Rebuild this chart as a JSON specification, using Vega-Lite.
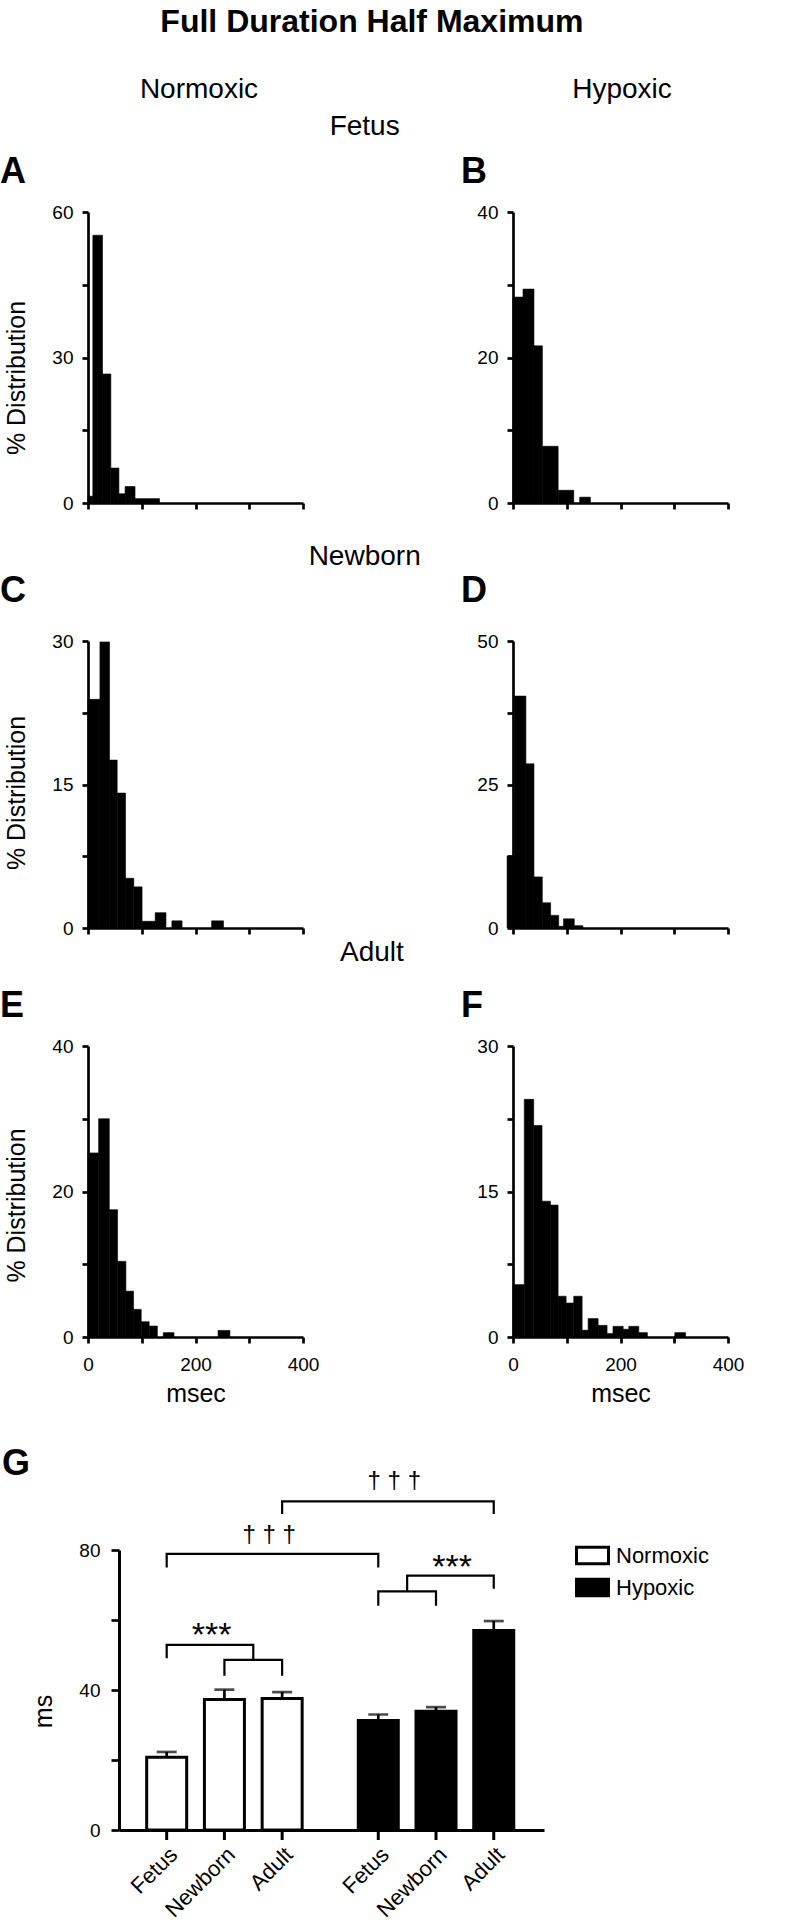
{
  "$schema": "https://vega.github.io/schema/vega-lite/v6.json",
  "background": "white",
  "padding": {"left": 0, "top": 5, "right": 0, "bottom": 0},
  "config": {
    "font": "Liberation Sans",
    "view": {"stroke": null},
    "axis": {"domainColor": "black", "domainWidth": 2.7, "tickColor": "black", "tickWidth": 2.7, "tickSize": 6, "labelColor": "black", "labelFontSize": 19, "labelPadding": 9, "labelFlush": false, "labelOverlap": false, "grid": false, "titleColor": "black", "titleFontSize": 25, "titleFontWeight": "normal", "titlePadding": 22},
    "title": {"color": "black"}
  },
  "title": {"text": "Full Duration Half Maximum", "fontSize": 32, "fontWeight": "bold", "anchor": "middle", "frame": "bounds", "offset": 37},
  "datasets": {
    "cols": [{"col": "Normoxic"}, {"col": "Hypoxic"}],
    "A": [{"x0":0,"x1":9,"pct":1.4},{"x0":9,"x1":27,"pct":55.2},{"x0":27,"x1":42.5,"pct":26.6},{"x0":42.5,"x1":57.5,"pct":7.2},{"x0":57.5,"x1":69,"pct":1.9},{"x0":69,"x1":87.5,"pct":3.4},{"x0":87.5,"x1":133,"pct":0.9}],
    "B": [{"x0":0,"x1":18.6,"pct":28.3},{"x0":18.6,"x1":39,"pct":29.4},{"x0":39,"x1":54.7,"pct":21.6},{"x0":54.7,"x1":84,"pct":7.8},{"x0":84,"x1":113,"pct":1.75},{"x0":124,"x1":144,"pct":0.8}],
    "C": [{"x0":0,"x1":22.2,"pct":23.9},{"x0":22.2,"x1":40,"pct":29.9},{"x0":40,"x1":54.3,"pct":17.55},{"x0":54.3,"x1":69.8,"pct":14.1},{"x0":69.8,"x1":85.2,"pct":5.2},{"x0":85.2,"x1":100.6,"pct":4.3},{"x0":100.6,"x1":125,"pct":0.7},{"x0":125,"x1":145,"pct":1.6},{"x0":156,"x1":175,"pct":0.75},{"x0":230,"x1":252,"pct":0.75}],
    "D": [{"x0":-11,"x1":3,"pct":12.5},{"x0":3,"x1":24,"pct":40.4},{"x0":24,"x1":39,"pct":28.6},{"x0":39,"x1":54.5,"pct":8.9},{"x0":54.5,"x1":70,"pct":4.4},{"x0":70,"x1":85,"pct":2.2},{"x0":85,"x1":94,"pct":0.3},{"x0":94,"x1":114,"pct":1.6},{"x0":114,"x1":130,"pct":0.4}],
    "E": [{"x0":0,"x1":19.8,"pct":25.3},{"x0":19.8,"x1":39.6,"pct":30.0},{"x0":39.6,"x1":55,"pct":17.5},{"x0":55,"x1":70.5,"pct":10.4},{"x0":70.5,"x1":84.7,"pct":6.3},{"x0":84.7,"x1":99,"pct":3.8},{"x0":99,"x1":113.8,"pct":2.1},{"x0":113.8,"x1":129,"pct":1.5},{"x0":140,"x1":160,"pct":0.6},{"x0":242,"x1":264,"pct":0.9}],
    "F": [{"x0":0,"x1":21,"pct":5.4},{"x0":21,"x1":38.5,"pct":24.5},{"x0":38.5,"x1":54,"pct":21.8},{"x0":54,"x1":69.6,"pct":14.0},{"x0":69.6,"x1":83.9,"pct":13.6},{"x0":83.9,"x1":98.8,"pct":4.2},{"x0":98.8,"x1":113,"pct":3.5},{"x0":113,"x1":128.6,"pct":4.2},{"x0":128.6,"x1":139.8,"pct":0.7},{"x0":139.8,"x1":158.4,"pct":1.9},{"x0":158.4,"x1":175,"pct":1.2},{"x0":175,"x1":186,"pct":0.35},{"x0":186,"x1":205,"pct":1.1},{"x0":205,"x1":215.5,"pct":0.8},{"x0":215.5,"x1":234,"pct":1.1},{"x0":234,"x1":250,"pct":0.45},{"x0":301,"x1":321,"pct":0.45}],
    "gbars": [
      {"cond": "Normoxic", "slot": "Fetus", "mean": 20.8, "upper": 22.3},
      {"cond": "Normoxic", "slot": "Newborn", "mean": 37.3, "upper": 40.1},
      {"cond": "Normoxic", "slot": "Adult", "mean": 37.6, "upper": 39.4},
      {"cond": "Hypoxic", "slot": "Fetus", "mean": 31.3, "upper": 33.0},
      {"cond": "Hypoxic", "slot": "Newborn", "mean": 33.9, "upper": 35.1},
      {"cond": "Hypoxic", "slot": "Adult", "mean": 57.0, "upper": 59.7}
    ],
    "brackets": [
      {"id": "t1", "ord": 1, "cond": "Normoxic", "slot": "Fetus", "y": 75},
      {"id": "t1", "ord": 2, "cond": "Normoxic", "slot": "Fetus", "y": 78.9},
      {"id": "t1", "ord": 3, "cond": "Hypoxic", "slot": "Fetus", "y": 78.9},
      {"id": "t1", "ord": 4, "cond": "Hypoxic", "slot": "Fetus", "y": 75},
      {"id": "t2", "ord": 1, "cond": "Normoxic", "slot": "Adult", "y": 90.3},
      {"id": "t2", "ord": 2, "cond": "Normoxic", "slot": "Adult", "y": 93.9},
      {"id": "t2", "ord": 3, "cond": "Hypoxic", "slot": "Adult", "y": 93.9},
      {"id": "t2", "ord": 4, "cond": "Hypoxic", "slot": "Adult", "y": 90.3},
      {"id": "sL1", "ord": 1, "cond": "Normoxic", "slot": "Fetus", "y": 49.1},
      {"id": "sL1", "ord": 2, "cond": "Normoxic", "slot": "Fetus", "y": 52.9},
      {"id": "sL1", "ord": 3, "cond": "Normoxic", "slot": "Newborn–Adult", "y": 52.9},
      {"id": "sL1", "ord": 4, "cond": "Normoxic", "slot": "Newborn–Adult", "y": 48.6},
      {"id": "sL2", "ord": 1, "cond": "Normoxic", "slot": "Newborn", "y": 44.1},
      {"id": "sL2", "ord": 2, "cond": "Normoxic", "slot": "Newborn", "y": 48.6},
      {"id": "sL2", "ord": 3, "cond": "Normoxic", "slot": "Adult", "y": 48.6},
      {"id": "sL2", "ord": 4, "cond": "Normoxic", "slot": "Adult", "y": 44.1},
      {"id": "sR1", "ord": 1, "cond": "Hypoxic", "slot": "Adult", "y": 68.9},
      {"id": "sR1", "ord": 2, "cond": "Hypoxic", "slot": "Adult", "y": 72.7},
      {"id": "sR1", "ord": 3, "cond": "Hypoxic", "slot": "Fetus–Newborn", "y": 72.7},
      {"id": "sR1", "ord": 4, "cond": "Hypoxic", "slot": "Fetus–Newborn", "y": 68.2},
      {"id": "sR2", "ord": 1, "cond": "Hypoxic", "slot": "Fetus", "y": 64.1},
      {"id": "sR2", "ord": 2, "cond": "Hypoxic", "slot": "Fetus", "y": 68.2},
      {"id": "sR2", "ord": 3, "cond": "Hypoxic", "slot": "Newborn", "y": 68.2},
      {"id": "sR2", "ord": 4, "cond": "Hypoxic", "slot": "Newborn", "y": 64.1}
    ],
    "stars": [
      {"cond": "Normoxic", "slot": "Fetus–Newborn", "y": 52.7, "label": "***"},
      {"cond": "Hypoxic", "slot": "Newborn", "y": 72.0, "label": "***"}
    ],
    "daggers": [
      {"cond": "Normoxic", "slot": "Newborn–Adult", "y": 82.2, "label": "† † †"},
      {"cond": "Hypoxic", "slot": "Fetus", "y": 97.6, "label": "† † †"}
    ]
  },
  "spacing": 40,
  "resolve": {"scale": {"fill": "independent"}, "legend": {"fill": "independent"}},
  "vconcat": [
    {"spacing": 0, "vconcat": [
      {"spacing": 29, "vconcat": [
        {"spacing": 9, "vconcat": [
          {"width": 645, "height": 1, "data": {"name": "cols"},
           "mark": {"type": "text", "fontSize": 28, "baseline": "alphabetic", "color": "black"},
           "encoding": {
             "x": {"field": "col", "type": "nominal", "scale": {"type": "point", "padding": 0.2624, "domain": ["Normoxic", "Hypoxic"]}, "axis": null},
             "text": {"field": "col"}
           }},
          {"title": {"text": "Fetus", "fontSize": 28, "fontWeight": "normal", "anchor": "middle", "frame": "bounds", "offset": 13},
           "bounds": "flush", "spacing": 210,
           "hconcat": [
            {"width": 215, "height": 291, "data": {"name": "A"},
             "title": {"text": "A", "anchor": "start", "frame": "group", "dx": -88, "offset": 12, "fontSize": 36, "fontWeight": "bold"},
             "mark": {"type": "rect", "color": "black", "stroke": "black", "strokeWidth": 0.6},
             "encoding": {
               "x": {"field": "x0", "type": "quantitative", "scale": {"domain": [0, 400], "nice": false}, "axis": {"values": [0, 100, 200, 300, 400], "labels": false, "title": null}},
               "x2": {"field": "x1"},
               "y": {"field": "pct", "type": "quantitative", "scale": {"domain": [0, 60], "nice": false}, "axis": {"values": [0, 15, 30, 45, 60], "labelExpr": "datum.value % 30 === 0 ? datum.label : ''", "title": "% Distribution", "titleY": 165.5}},
               "y2": {"datum": 0}
             }},
            {"width": 215, "height": 291, "data": {"name": "B"},
             "title": {"text": "B", "anchor": "start", "frame": "group", "dx": -52, "offset": 12, "fontSize": 36, "fontWeight": "bold"},
             "mark": {"type": "rect", "color": "black", "stroke": "black", "strokeWidth": 0.6},
             "encoding": {
               "x": {"field": "x0", "type": "quantitative", "scale": {"domain": [0, 400], "nice": false}, "axis": {"values": [0, 100, 200, 300, 400], "labels": false, "title": null}},
               "x2": {"field": "x1"},
               "y": {"field": "pct", "type": "quantitative", "scale": {"domain": [0, 40], "nice": false}, "axis": {"values": [0, 10, 20, 30, 40], "labelExpr": "datum.value % 20 === 0 ? datum.label : ''", "title": null}},
               "y2": {"datum": 0}
             }}
           ]}
        ]},
        {"title": {"text": "Newborn", "fontSize": 28, "fontWeight": "normal", "anchor": "middle", "frame": "bounds", "offset": 2.5},
         "bounds": "flush", "spacing": 210,
         "hconcat": [
          {"width": 215, "height": 287, "data": {"name": "C"},
           "title": {"text": "C", "anchor": "start", "frame": "group", "dx": -88, "offset": 22, "fontSize": 36, "fontWeight": "bold"},
           "mark": {"type": "rect", "color": "black", "stroke": "black", "strokeWidth": 0.6},
           "encoding": {
             "x": {"field": "x0", "type": "quantitative", "scale": {"domain": [0, 400], "nice": false}, "axis": {"values": [0, 100, 200, 300, 400], "labels": false, "title": null}},
             "x2": {"field": "x1"},
             "y": {"field": "pct", "type": "quantitative", "scale": {"domain": [0, 30], "nice": false}, "axis": {"values": [0, 7.5, 15, 22.5, 30], "labelExpr": "datum.value % 15 === 0 ? datum.label : ''", "title": "% Distribution", "titleY": 151.5}},
             "y2": {"datum": 0}
           }},
          {"width": 215, "height": 287, "data": {"name": "D"},
           "title": {"text": "D", "anchor": "start", "frame": "group", "dx": -52, "offset": 22, "fontSize": 36, "fontWeight": "bold"},
           "mark": {"type": "rect", "color": "black", "stroke": "black", "strokeWidth": 0.6},
           "encoding": {
             "x": {"field": "x0", "type": "quantitative", "scale": {"domain": [0, 400], "nice": false}, "axis": {"values": [0, 100, 200, 300, 400], "labels": false, "title": null}},
             "x2": {"field": "x1"},
             "y": {"field": "pct", "type": "quantitative", "scale": {"domain": [0, 50], "nice": false}, "axis": {"values": [0, 12.5, 25, 37.5, 50], "labelExpr": "datum.value % 25 === 0 ? datum.label : ''", "title": null}},
             "y2": {"datum": 0}
           }}
         ]}
      ]},
      {"title": {"text": "Adult", "fontSize": 28, "fontWeight": "normal", "anchor": "middle", "frame": "bounds", "offset": 21.5},
       "bounds": "flush", "spacing": 210,
       "hconcat": [
        {"width": 215, "height": 291, "data": {"name": "E"},
         "title": {"text": "E", "anchor": "start", "frame": "group", "dx": -88, "offset": 12, "fontSize": 36, "fontWeight": "bold"},
         "mark": {"type": "rect", "color": "black", "stroke": "black", "strokeWidth": 0.6},
         "encoding": {
           "x": {"field": "x0", "type": "quantitative", "scale": {"domain": [0, 400], "nice": false}, "axis": {"values": [0, 100, 200, 300, 400], "labelExpr": "datum.value % 200 === 0 ? datum.label : ''", "labelPadding": 12, "title": "msec", "titlePadding": 7}},
           "x2": {"field": "x1"},
           "y": {"field": "pct", "type": "quantitative", "scale": {"domain": [0, 40], "nice": false}, "axis": {"values": [0, 10, 20, 30, 40], "labelExpr": "datum.value % 20 === 0 ? datum.label : ''", "title": "% Distribution", "titleY": 159}},
           "y2": {"datum": 0}
         }},
        {"width": 215, "height": 291, "data": {"name": "F"},
         "title": {"text": "F", "anchor": "start", "frame": "group", "dx": -52, "offset": 12, "fontSize": 36, "fontWeight": "bold"},
         "mark": {"type": "rect", "color": "black", "stroke": "black", "strokeWidth": 0.6},
         "encoding": {
           "x": {"field": "x0", "type": "quantitative", "scale": {"domain": [0, 400], "nice": false}, "axis": {"values": [0, 100, 200, 300, 400], "labelExpr": "datum.value % 200 === 0 ? datum.label : ''", "labelPadding": 12, "title": "msec", "titlePadding": 7}},
           "x2": {"field": "x1"},
           "y": {"field": "pct", "type": "quantitative", "scale": {"domain": [0, 30], "nice": false}, "axis": {"values": [0, 7.5, 15, 22.5, 30], "labelExpr": "datum.value % 15 === 0 ? datum.label : ''", "title": null}},
           "y2": {"datum": 0}
         }}
       ]}
    ]},
    {"bounds": "flush", "spacing": 30,
     "resolve": {"scale": {"fill": "independent"}, "legend": {"fill": "independent"}},
     "hconcat": [
      {"width": 1, "height": 1, "data": {"values": [{"s": 0}]}, "mark": {"type": "point", "opacity": 0}},
      {"width": 425, "height": 280,
       "title": {"text": "G", "anchor": "start", "frame": "group", "dx": -117, "offset": -14, "fontSize": 36, "fontWeight": "bold"},
       "encoding": {
         "x": {"field": "cond", "type": "nominal", "scale": {"domain": ["Normoxic", "Hypoxic"], "paddingInner": 0.1815, "paddingOuter": 0.095, "align": 0.468}, "axis": {"ticks": false, "labels": false, "title": null, "domainWidth": 3}},
         "xOffset": {"field": "slot", "type": "nominal", "scale": {"type": "point", "padding": 1, "domain": ["Fetus", "Fetus–Newborn", "Newborn", "Newborn–Adult", "Adult"]}}
       },
       "layer": [
        {"data": {"name": "gbars"},
         "mark": {"type": "bar", "width": 40, "stroke": "black", "strokeWidth": 3},
         "encoding": {
           "y": {"field": "mean", "type": "quantitative", "scale": {"domain": [0, 80], "nice": false}, "axis": {"values": [0, 20, 40, 60, 80], "labelExpr": "datum.value % 40 === 0 ? datum.label : ''", "tickSize": 8, "labelPadding": 11, "title": "ms", "titlePadding": 22, "titleY": 161, "domainWidth": 3}},
           "fill": {"field": "cond", "type": "nominal", "scale": {"domain": ["Normoxic", "Hypoxic"], "range": ["white", "black"]},
             "legend": {"title": null, "orient": "none", "legendX": 456, "legendY": -12, "symbolType": "M-1,-0.52H1V0.52H-1Z", "symbolSize": 1024, "symbolStrokeColor": "black", "symbolStrokeWidth": 3, "labelFontSize": 22, "labelColor": "black", "labelOffset": 6, "rowPadding": 0, "padding": 0}}
         }},
        {"data": {"name": "gbars"},
         "mark": {"type": "rule", "color": "black", "strokeWidth": 2.7},
         "encoding": {
           "y": {"field": "mean", "type": "quantitative", "scale": {"domain": [0, 80], "nice": false}, "axis": {"values": [0, 20, 40, 60, 80], "labelExpr": "datum.value % 40 === 0 ? datum.label : ''", "tickSize": 8, "labelPadding": 11, "title": "ms", "titlePadding": 22, "titleY": 161, "domainWidth": 3}},
           "y2": {"field": "upper"}
         }},
        {"data": {"name": "gbars"},
         "mark": {"type": "tick", "color": "black", "size": 20, "thickness": 2.7},
         "encoding": {
           "y": {"field": "upper", "type": "quantitative", "scale": {"domain": [0, 80], "nice": false}, "axis": {"values": [0, 20, 40, 60, 80], "labelExpr": "datum.value % 40 === 0 ? datum.label : ''", "tickSize": 8, "labelPadding": 11, "title": "ms", "titlePadding": 22, "titleY": 161, "domainWidth": 3}}
         }},
        {"data": {"name": "gbars"},
         "mark": {"type": "rule", "color": "black", "strokeWidth": 3, "y2Offset": 10},
         "encoding": {
           "y": {"datum": 0, "type": "quantitative", "scale": {"domain": [0, 80], "nice": false}, "axis": {"values": [0, 20, 40, 60, 80], "labelExpr": "datum.value % 40 === 0 ? datum.label : ''", "tickSize": 8, "labelPadding": 11, "title": "ms", "titlePadding": 22, "titleY": 161, "domainWidth": 3}},
           "y2": {"datum": 0}
         }},
        {"data": {"name": "gbars"},
         "mark": {"type": "text", "angle": -45, "align": "right", "baseline": "top", "dx": -10, "dy": 10, "fontSize": 22, "color": "black"},
         "encoding": {
           "y": {"datum": 0, "type": "quantitative", "scale": {"domain": [0, 80], "nice": false}, "axis": {"values": [0, 20, 40, 60, 80], "labelExpr": "datum.value % 40 === 0 ? datum.label : ''", "tickSize": 8, "labelPadding": 11, "title": "ms", "titlePadding": 22, "titleY": 161, "domainWidth": 3}},
           "text": {"field": "slot"}
         }},
        {"data": {"name": "brackets"},
         "mark": {"type": "line", "color": "black", "strokeWidth": 2.2},
         "encoding": {
           "y": {"field": "y", "type": "quantitative", "scale": {"domain": [0, 80], "nice": false}, "axis": {"values": [0, 20, 40, 60, 80], "labelExpr": "datum.value % 40 === 0 ? datum.label : ''", "tickSize": 8, "labelPadding": 11, "title": "ms", "titlePadding": 22, "titleY": 161, "domainWidth": 3}},
           "detail": {"field": "id"},
           "order": {"field": "ord"}
         }},
        {"data": {"name": "stars"},
         "mark": {"type": "text", "fontSize": 34, "baseline": "alphabetic", "align": "center", "dx": 16, "color": "black"},
         "encoding": {
           "y": {"field": "y", "type": "quantitative", "scale": {"domain": [0, 80], "nice": false}, "axis": {"values": [0, 20, 40, 60, 80], "labelExpr": "datum.value % 40 === 0 ? datum.label : ''", "tickSize": 8, "labelPadding": 11, "title": "ms", "titlePadding": 22, "titleY": 161, "domainWidth": 3}},
           "text": {"field": "label"}
         }},
        {"data": {"name": "daggers"},
         "mark": {"type": "text", "fontSize": 24, "baseline": "alphabetic", "align": "center", "dx": 16, "color": "black"},
         "encoding": {
           "y": {"field": "y", "type": "quantitative", "scale": {"domain": [0, 80], "nice": false}, "axis": {"values": [0, 20, 40, 60, 80], "labelExpr": "datum.value % 40 === 0 ? datum.label : ''", "tickSize": 8, "labelPadding": 11, "title": "ms", "titlePadding": 22, "titleY": 161, "domainWidth": 3}},
           "text": {"field": "label"}
         }}
       ]}
     ]}
  ]
}
